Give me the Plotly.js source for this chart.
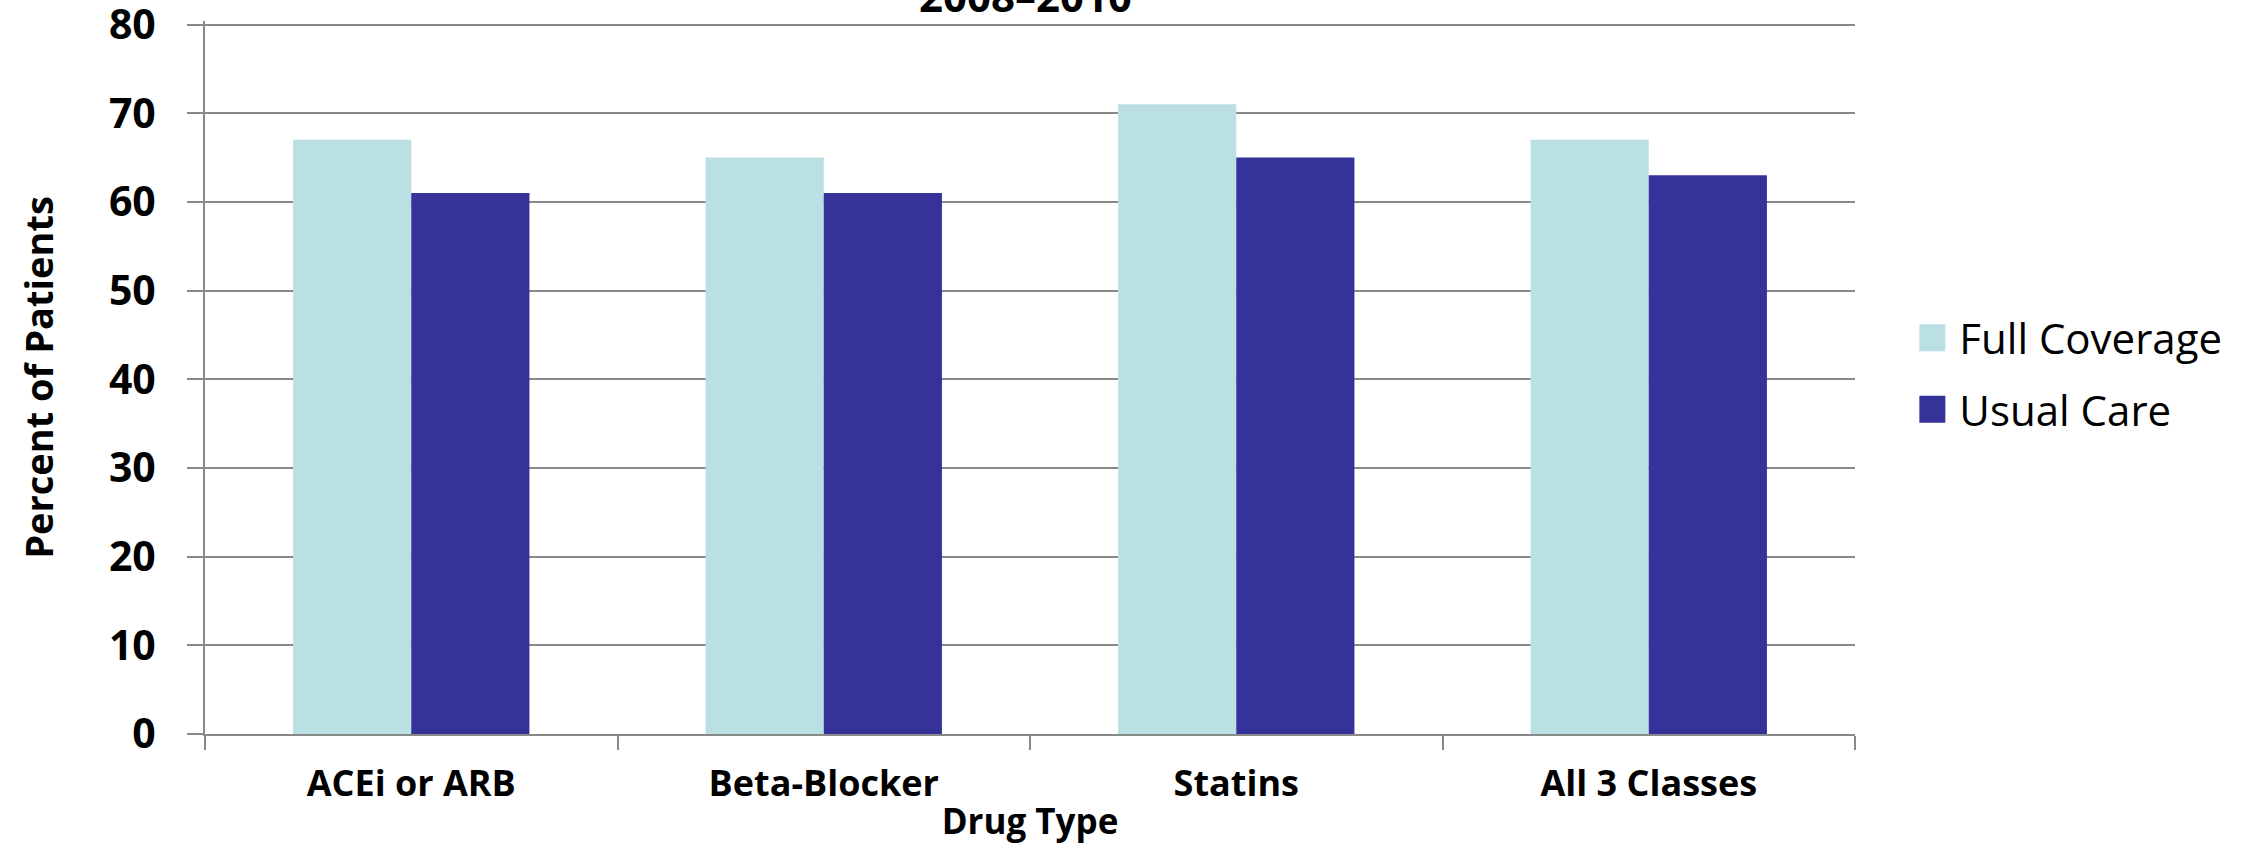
<!DOCTYPE html>
<html>
<head>
<meta charset="utf-8">
<script src="https://cdn.plot.ly/plotly-3.0.1.min.js"></script>
<style>html,body{margin:0;padding:0;background:#fff;}#chart{width:2249px;height:844px;}</style>
</head>
<body>
<div id="chart"></div>
<script>
const categories = ["ACEi or ARB", "Beta-Blocker", "Statins", "All 3 Classes"];
const fullCoverage = [67, 65, 71, 67];
const usualCare = [61, 61, 65, 63];
const seriesNames = ["Full Coverage", "Usual Care"];
const yTicks = [0, 10, 20, 30, 40, 50, 60, 70, 80];

const FONT = '"Open Sans", "Liberation Sans", sans-serif';
const GRID = '#898989';

const traces = [
  {type: 'bar', name: seriesNames[0], x: categories, y: fullCoverage,
   marker: {color: '#BAE0E3'}, legendgroup: 'a'},
  {type: 'bar', name: seriesNames[1], x: categories, y: usualCare,
   marker: {color: '#353399'}, legendgroup: 'b'}
];

const layout = {
  width: 2249, height: 844,
  paper_bgcolor: '#fff', plot_bgcolor: '#fff',
  margin: {l: 205, r: 394, t: 21, b: 110, autoexpand: false},
  font: {family: FONT, color: '#000'},
  title: {text: '<b>2008–2010</b>', font: {size: 42, family: FONT, color: '#000'},
          x: 0.456, xref: 'container', xanchor: 'center',
          y: 1 - 12/844, yref: 'container', yanchor: 'bottom'},
  barmode: 'group', bargap: 0.427, bargroupgap: 0,
  showlegend: true,
  legend: {x: 1.039, xanchor: 'left', y: 0.505, yanchor: 'middle',
           font: {size: 42, family: FONT, color: '#000'},
           traceorder: 'grouped', tracegroupgap: 14, bgcolor: 'rgba(0,0,0,0)'},
  xaxis: {
    type: 'category', tickson: 'boundaries', ticks: 'outside', ticklen: 14,
    tickwidth: 2, tickcolor: GRID, showline: true, linecolor: GRID, linewidth: 2,
    showgrid: false, tickfont: {size: 36, family: FONT, color: '#000', weight: 'bold'},
    ticklabelstandoff: 17,
    title: {text: '<b>Drug Type</b>', font: {size: 35, family: FONT, color: '#000'}, standoff: 18}
  },
  yaxis: {
    range: [0, 80.4], tickvals: yTicks, ticktext: yTicks.map(String),
    ticks: 'outside', ticklen: 16, tickwidth: 2, tickcolor: GRID,
    showline: true, linecolor: GRID, linewidth: 2,
    showgrid: true, gridcolor: GRID, gridwidth: 2, zeroline: false,
    tickfont: {size: 41, family: FONT, color: '#000', weight: 'bold'},
    ticklabelstandoff: 23, ticklabeloverflow: 'allow',
    title: {text: '<b>Percent of Patients</b>', font: {size: 38, family: FONT, color: '#000'}, standoff: 44}
  }
};

Plotly.newPlot('chart', traces, layout, {displayModeBar: false, staticPlot: true}).then(function(gd){
  gd.querySelectorAll('.legend .legendpoints path').forEach(function(p){
    p.setAttribute('d', 'M6,13.5H-21V-13.5H6Z');
  });
});
</script>
</body>
</html>
